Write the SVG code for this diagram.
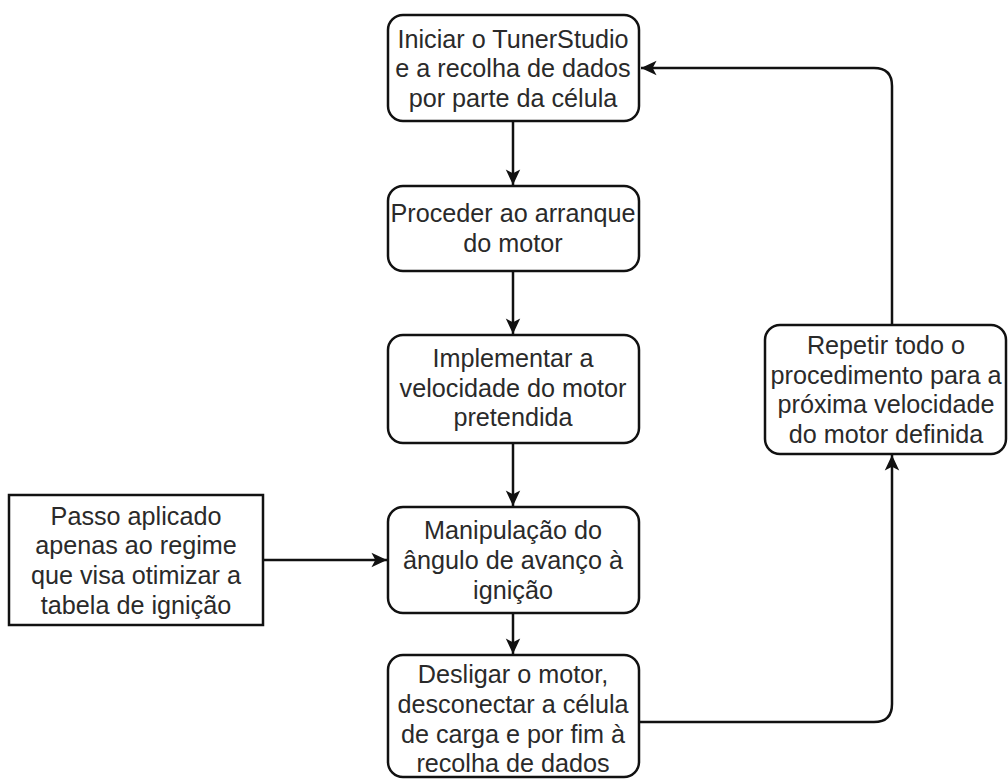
<svg xmlns="http://www.w3.org/2000/svg" width="1008" height="783" viewBox="0 0 1008 783">
<style>
.box{fill:#fff;stroke:#111;stroke-width:2.5}
.t{font-family:"Liberation Sans",Arial,Helvetica,sans-serif;font-size:25.2px;fill:#2a2a2a;text-anchor:middle;dominant-baseline:central}
.c{fill:none;stroke:#111;stroke-width:2.5;marker-end:url(#ah)}
</style>
<defs>
<marker id="ah" markerUnits="userSpaceOnUse" markerWidth="20" markerHeight="20" viewBox="-16 -8 18 16" refX="0" refY="0" orient="auto">
<path d="M0,0 L-14,-6.5 L-10.5,0 L-14,6.5 Z" fill="#111"/>
</marker>
</defs>
<rect width="1008" height="783" fill="#fff"/>
<g id="connectors">
<path class="c" d="M513,121 V185"/>
<path class="c" d="M513,271 V334"/>
<path class="c" d="M513,443 V506"/>
<path class="c" d="M513,613 V654"/>
<path class="c" d="M263,560 H387"/>
<path class="c" d="M640,722 H874 Q892,722 892,704 V455"/>
<path class="c" d="M892,325 V86 Q892,68 874,68 H641"/>
</g>
<g id="n1">
<rect class="box" x="388" y="15" width="251" height="106" rx="15"/>
<text class="t" x="513" y="38.5">Iniciar o TunerStudio</text>
<text class="t" x="513" y="68">e a recolha de dados</text>
<text class="t" x="513" y="97.5">por parte da célula</text>
</g>
<g id="n2">
<rect class="box" x="388" y="186" width="251" height="85" rx="15"/>
<text class="t" x="513" y="213">Proceder ao arranque</text>
<text class="t" x="513" y="242.5">do motor</text>
</g>
<g id="n3">
<rect class="box" x="388" y="335" width="251" height="108" rx="15"/>
<text class="t" x="513" y="358">Implementar a</text>
<text class="t" x="513" y="387.5">velocidade do motor</text>
<text class="t" x="513" y="417">pretendida</text>
</g>
<g id="n4">
<rect class="box" x="388" y="507" width="251" height="106" rx="15"/>
<text class="t" x="513" y="530">Manipulação do</text>
<text class="t" x="513" y="560">ângulo de avanço à</text>
<text class="t" x="513" y="590">ignição</text>
</g>
<g id="n5">
<rect class="box" x="388" y="655" width="251" height="122" rx="15"/>
<text class="t" x="513" y="674">Desligar o motor,</text>
<text class="t" x="513" y="704">desconectar a célula</text>
<text class="t" x="513" y="733.5">de carga e por fim à</text>
<text class="t" x="513" y="763">recolha de dados</text>
</g>
<g id="n6">
<rect class="box" x="9" y="495" width="254" height="130"/>
<text class="t" x="136" y="515.5">Passo aplicado</text>
<text class="t" x="136" y="545">apenas ao regime</text>
<text class="t" x="136" y="575">que visa otimizar a</text>
<text class="t" x="136" y="604.5">tabela de ignição</text>
</g>
<g id="n7">
<rect class="box" x="765" y="325" width="241" height="129" rx="15"/>
<text class="t" x="886" y="345">Repetir todo o</text>
<text class="t" x="886" y="374.5">procedimento para a</text>
<text class="t" x="886" y="404">próxima velocidade</text>
<text class="t" x="886" y="433.5">do motor definida</text>
</g>
</svg>
